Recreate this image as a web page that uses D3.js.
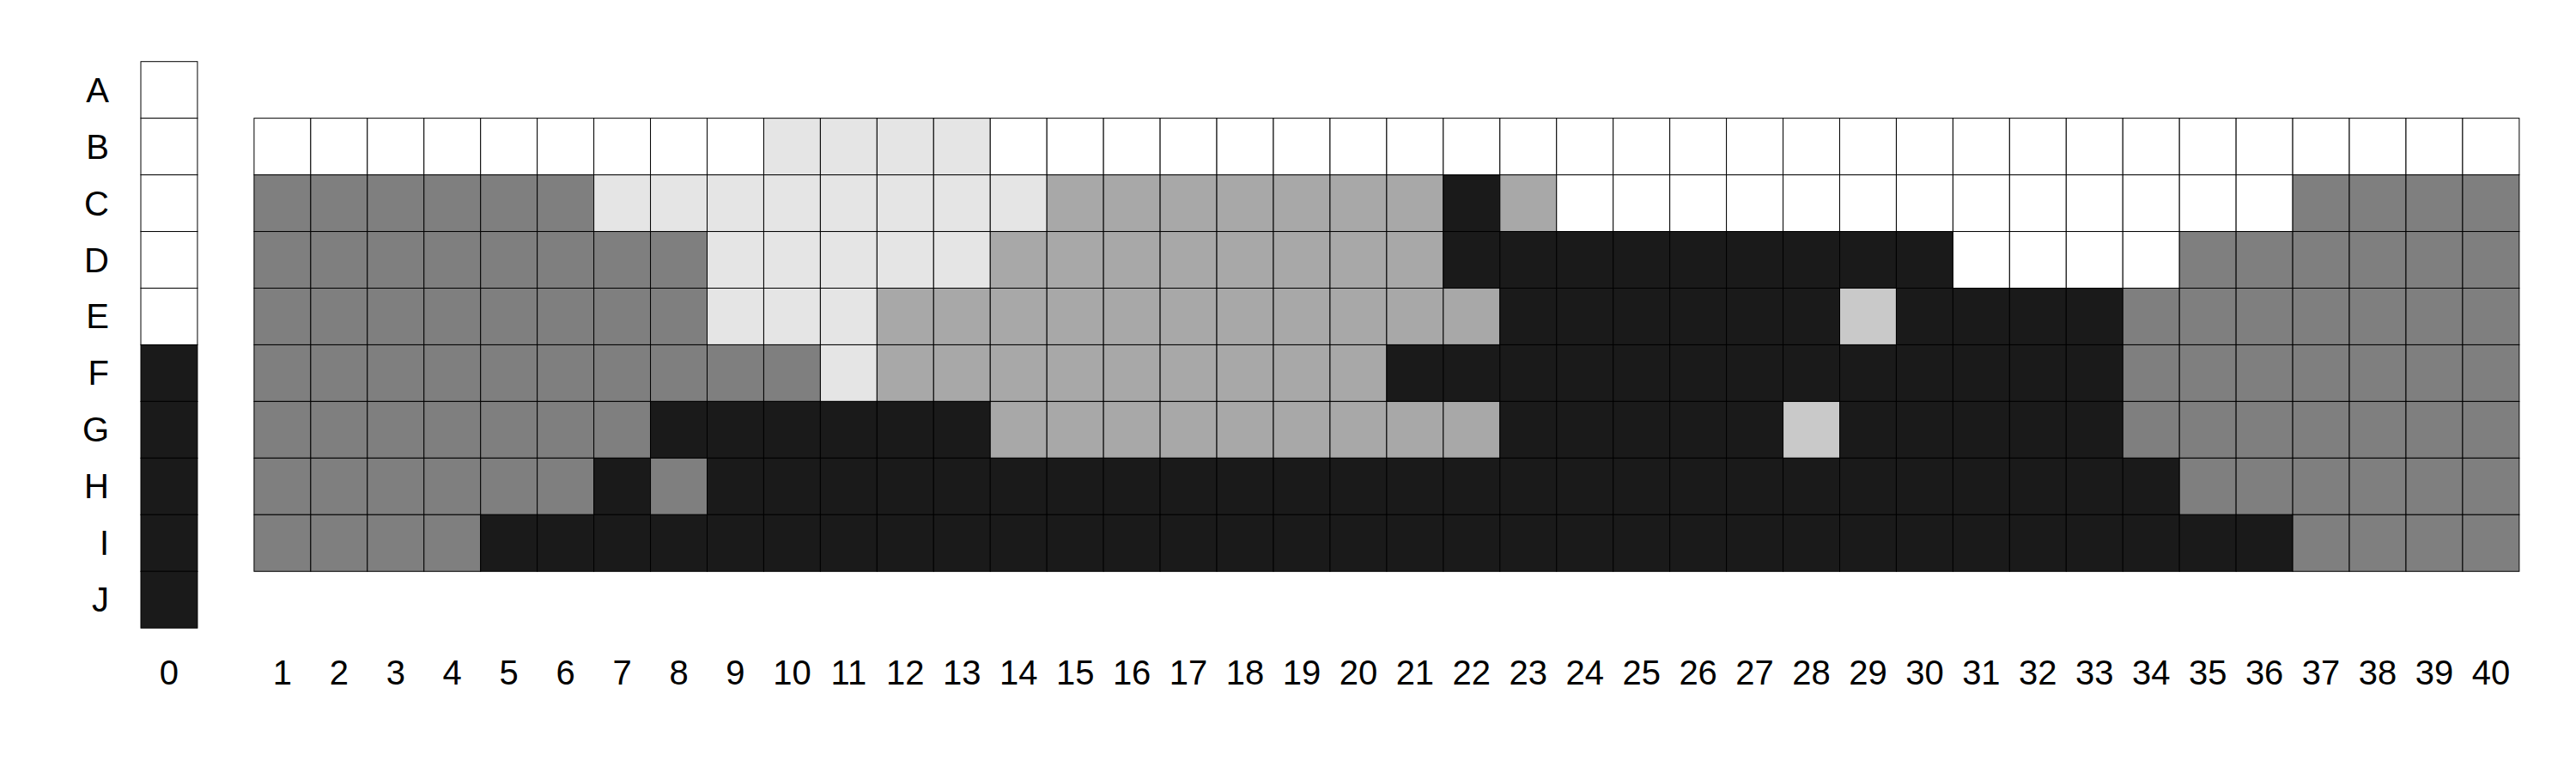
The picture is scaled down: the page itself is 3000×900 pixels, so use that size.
<!DOCTYPE html>
<html>
<head>
<meta charset="utf-8">
<script src="https://cdn.jsdelivr.net/npm/d3@7"></script>
<style>
  html, body { margin: 0; padding: 0; background: #ffffff; }
  svg { display: block; }
  text { font-family: "Liberation Sans", Arial, Helvetica, sans-serif; fill: #000; }
</style>
</head>
<body>
<svg id="chart" width="3000" height="900"></svg>
<script>
// ---- Data ----
// Level codes: 0 white, 1 very light gray, 2 light gray, 3 mid gray, 4 dark gray, 5 near-black
const rowLabels = ["A", "B", "C", "D", "E", "F", "G", "H", "I", "J"];
const colLabels = ["0", "1", "2", "3", "4", "5", "6", "7", "8", "9", "10",
  "11", "12", "13", "14", "15", "16", "17", "18", "19", "20",
  "21", "22", "23", "24", "25", "26", "27", "28", "29", "30",
  "31", "32", "33", "34", "35", "36", "37", "38", "39", "40"];
const levelColors = ["#ffffff", "#e5e5e5", "#c9c9c9", "#a8a8a8", "#7f7f7f", "#1a1a1a"];

// Column 0, rows A..J
const columnZero = [0, 0, 0, 0, 0, 5, 5, 5, 5, 5];

// Main grid rows B..I, columns 1..40
const rowB = [0,0,0,0,0,0,0,0,0,1,1,1,1,0,0,0,0,0,0,0,0,0,0,0,0,0,0,0,0,0,0,0,0,0,0,0,0,0,0,0];
const rowC = [4,4,4,4,4,4,1,1,1,1,1,1,1,1,3,3,3,3,3,3,3,5,3,0,0,0,0,0,0,0,0,0,0,0,0,0,4,4,4,4];
const rowD = [4,4,4,4,4,4,4,4,1,1,1,1,1,3,3,3,3,3,3,3,3,5,5,5,5,5,5,5,5,5,0,0,0,0,4,4,4,4,4,4];
const rowE = [4,4,4,4,4,4,4,4,1,1,1,3,3,3,3,3,3,3,3,3,3,3,5,5,5,5,5,5,2,5,5,5,5,4,4,4,4,4,4,4];
const rowF = [4,4,4,4,4,4,4,4,4,4,1,3,3,3,3,3,3,3,3,3,5,5,5,5,5,5,5,5,5,5,5,5,5,4,4,4,4,4,4,4];
const rowG = [4,4,4,4,4,4,4,5,5,5,5,5,5,3,3,3,3,3,3,3,3,3,5,5,5,5,5,2,5,5,5,5,5,4,4,4,4,4,4,4];
const rowH = [4,4,4,4,4,4,5,4,5,5,5,5,5,5,5,5,5,5,5,5,5,5,5,5,5,5,5,5,5,5,5,5,5,5,4,4,4,4,4,4];
const rowI = [4,4,4,4,5,5,5,5,5,5,5,5,5,5,5,5,5,5,5,5,5,5,5,5,5,5,5,5,5,5,5,5,5,5,5,5,4,4,4,4];
const gridRows = [rowB, rowC, rowD, rowE, rowF, rowG, rowH, rowI];

// ---- Build cells ----
const cells = [];
columnZero.forEach((v, r) => cells.push({ col: 0, row: r, level: v }));
gridRows.forEach((vals, i) => {
  vals.forEach((v, c) => cells.push({ col: c + 1, row: i + 1, level: v }));
});

// ---- Scales ----
const cell = 65.95;
// column 0 sits at slot 0, columns 1..40 at slots 2..41 (one empty slot gap)
const slot = c => (c === 0 ? 0 : c + 1);
const x = d3.scaleLinear().domain([0, 42]).range([164, 164 + 42 * cell]);
const y = d3.scaleLinear().domain([0, 10]).range([71.7, 71.7 + 10 * cell]);
const fill = d3.scaleOrdinal().domain(d3.range(levelColors.length)).range(levelColors);

const svg = d3.select("#chart");

svg.append("g")
  .selectAll("rect")
  .data(cells)
  .join("rect")
  .attr("x", d => x(slot(d.col)))
  .attr("y", d => y(d.row))
  .attr("width", x(1) - x(0))
  .attr("height", y(1) - y(0))
  .attr("fill", d => fill(d.level))
  .attr("stroke", "#000")
  .attr("stroke-width", 1);

// Row labels
svg.append("g")
  .selectAll("text")
  .data(rowLabels)
  .join("text")
  .attr("x", 127)
  .attr("y", (d, i) => y(i + 0.5))
  .attr("text-anchor", "end")
  .attr("dominant-baseline", "central")
  .attr("font-size", 40)
  .text(d => d);

// Column labels
svg.append("g")
  .selectAll("text")
  .data(colLabels)
  .join("text")
  .attr("x", (d, i) => x(slot(i) + 0.5))
  .attr("y", 783)
  .attr("text-anchor", "middle")
  .attr("dominant-baseline", "central")
  .attr("font-size", 40)
  .text(d => d);
</script>
</body>
</html>
